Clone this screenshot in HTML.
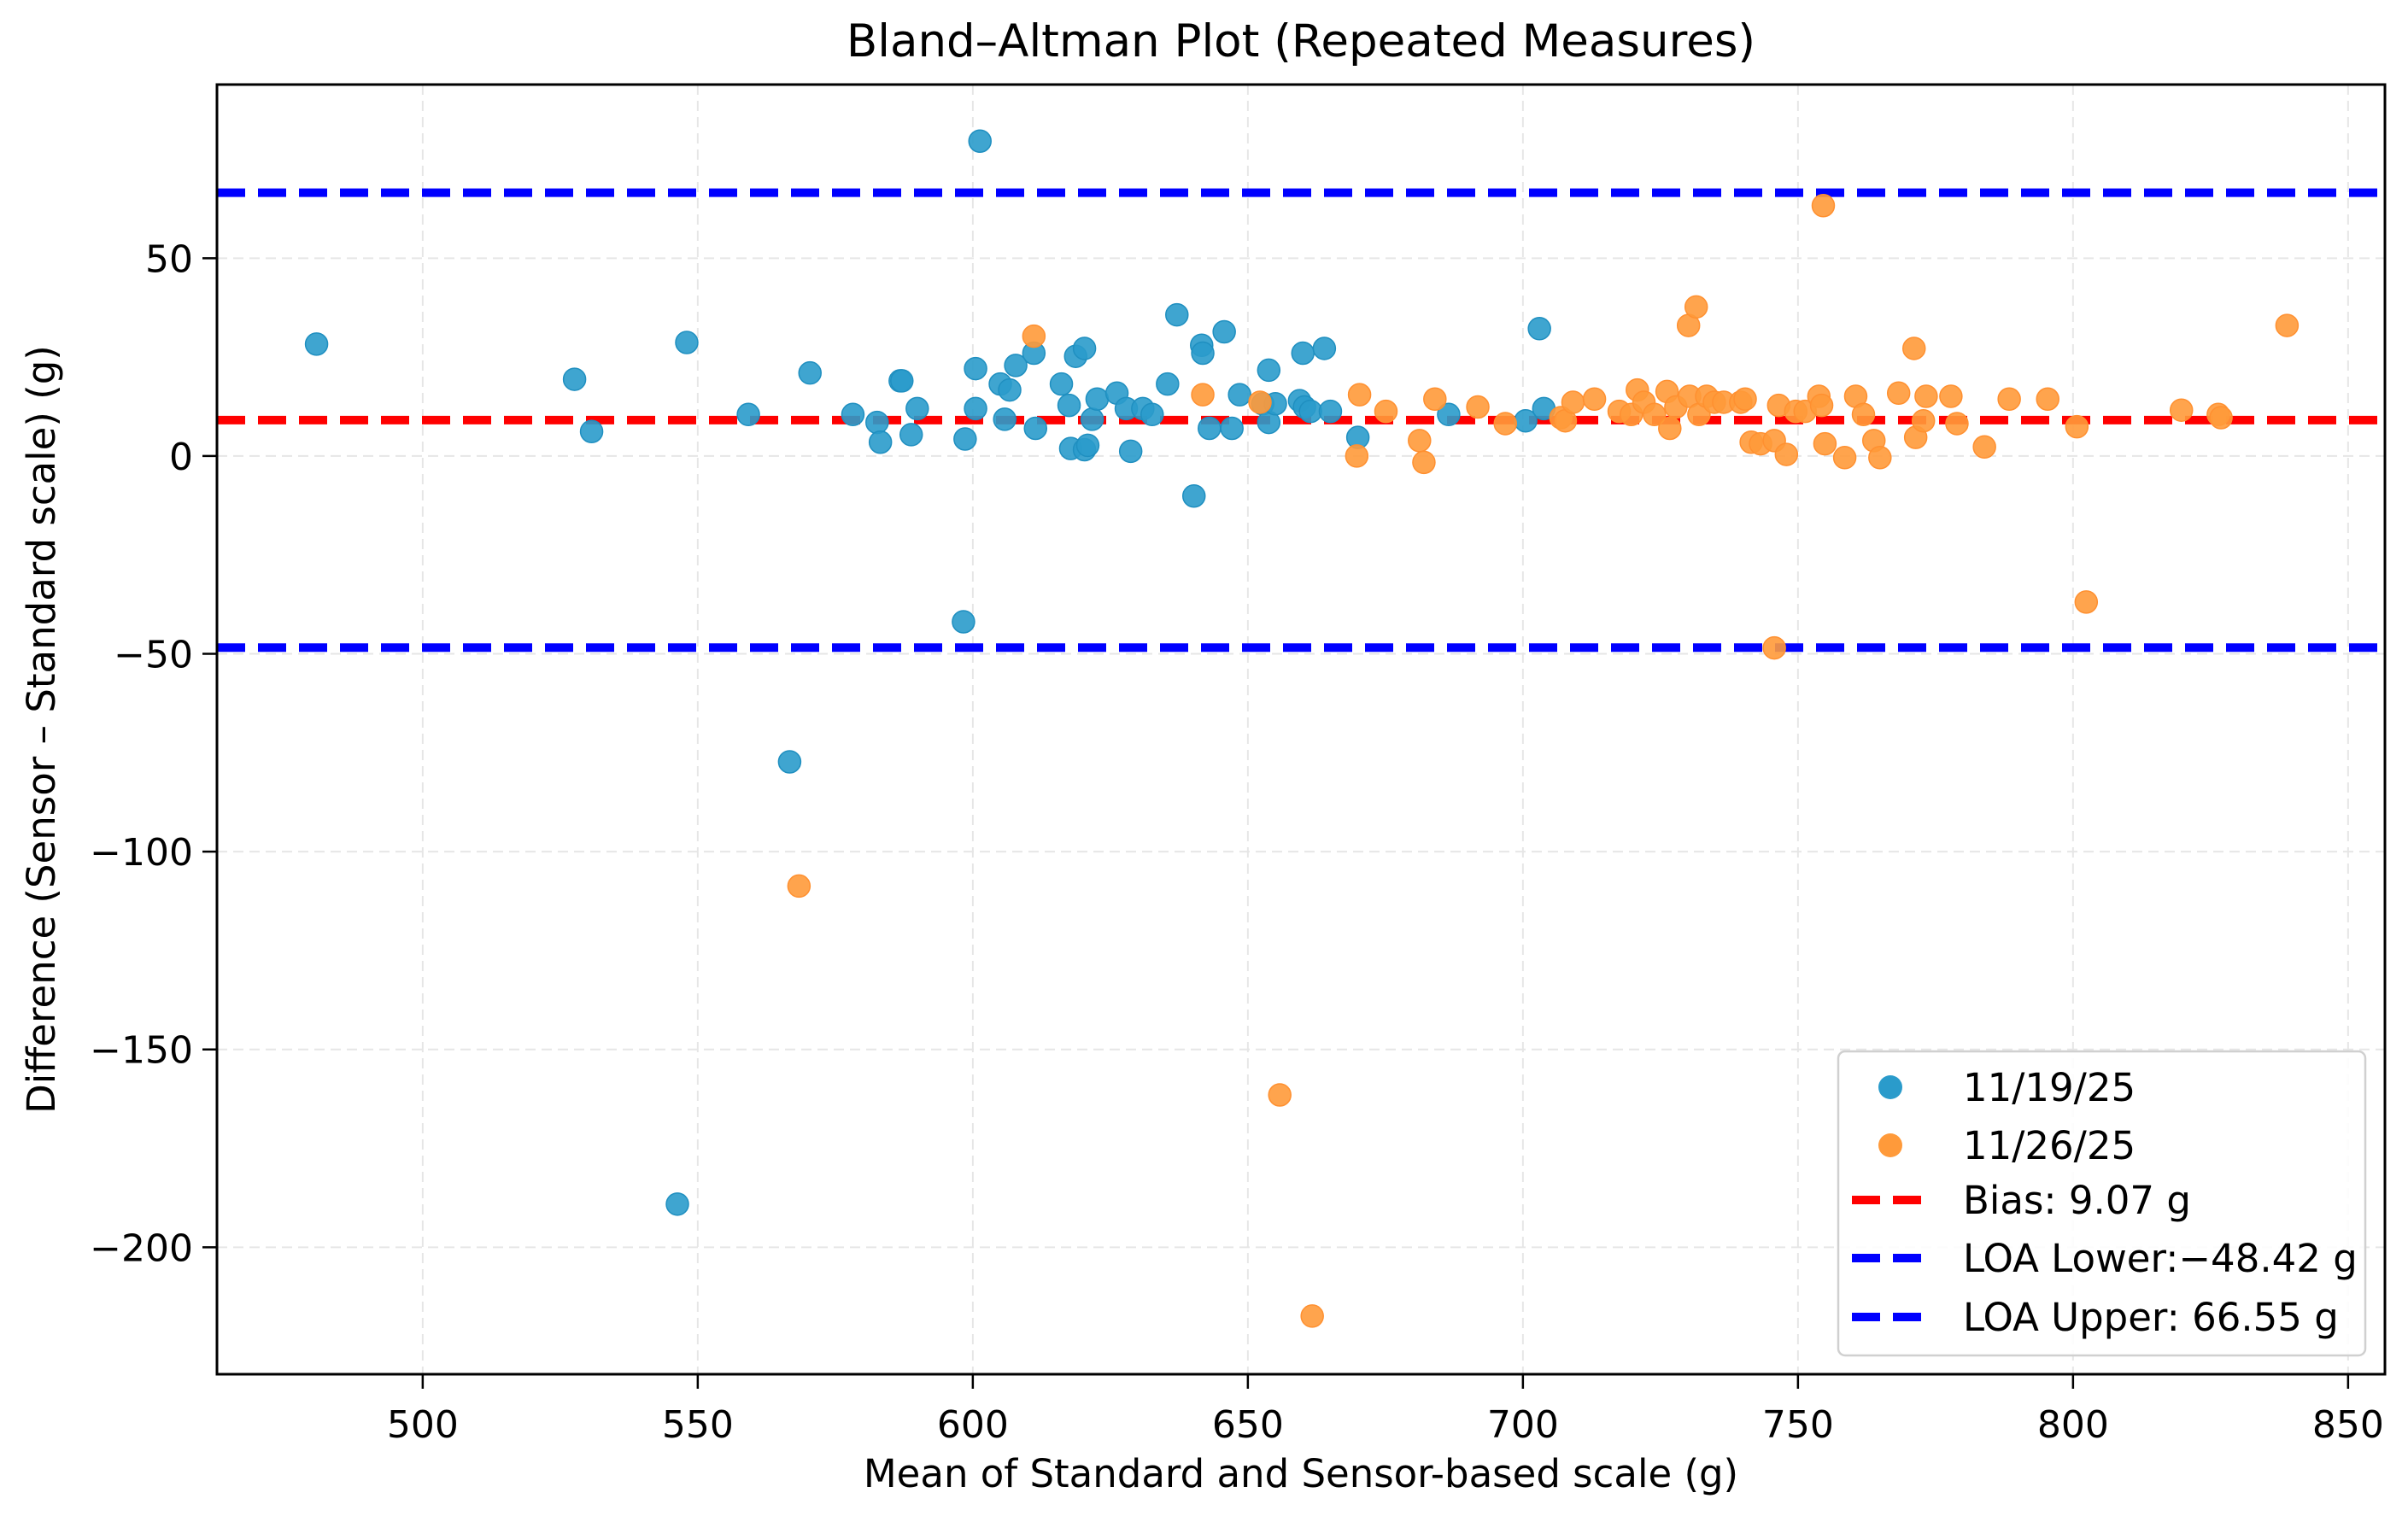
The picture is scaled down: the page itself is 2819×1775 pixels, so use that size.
<!DOCTYPE html>
<html><head><meta charset="utf-8"><style>
html,body{margin:0;padding:0;background:#fff;}
svg{display:block;font-family:"DejaVu Sans","Liberation Sans",sans-serif;}
</style></head><body>
<svg id="chart" width="2819" height="1775" viewBox="0 0 2819 1775" xmlns="http://www.w3.org/2000/svg">
<rect width="2819" height="1775" fill="#fff"/>
<g id="grid"></g>
<g id="lines"></g>
<g id="points"></g>
<g id="axes"></g>
<g id="legend"></g>
</svg>
<script>
const xTicks=[500,550,600,650,700,750,800,850];
const yTicks=[50,0,-50,-100,-150,-200];
const bias=9.07, loaLower=-48.42, loaUpper=66.55;
const seriesNames=["11/19/25","11/26/25"];
const blueX=[480.7,527.6,530.7,548.0,559.2,570.4,546.3,566.7,578.2,582.6,583.2,586.8,587.1,588.8,589.9,598.3,598.6,601.3,600.5,600.5,605.0,605.8,606.7,607.8,611.1,611.4,616.1,617.5,617.8,618.7,620.3,620.3,620.9,621.7,622.6,626.2,627.9,628.7,630.9,632.6,635.4,637.1,640.2,641.6,641.8,643.0,645.7,647.1,648.5,652.7,653.8,653.8,655.0,659.4,660.0,660.3,661.4,663.9,665.0,670.0,686.5,700.5,703.0,703.8];
const blueY=[28.3,19.4,6.2,28.7,10.5,21.0,-189.1,-77.3,10.5,8.5,3.5,19.0,19.0,5.4,12.0,-41.9,4.3,79.6,22.1,12.0,18.2,9.3,16.7,22.9,26.0,7.0,18.2,12.8,1.9,25.2,27.2,1.6,2.7,9.3,14.4,15.9,12.0,1.2,12.0,10.5,18.2,35.7,-10.1,28.0,26.0,7.0,31.4,7.0,15.5,13.2,21.7,8.5,13.2,14.0,26.0,12.4,11.3,27.2,11.3,4.7,10.5,8.9,32.2,12.0];
const orangeX=[611.1,568.4,641.8,652.2,655.8,661.7,669.8,670.3,675.1,681.2,682.0,684.0,691.8,696.8,706.9,707.7,709.1,713.0,717.5,719.7,720.8,722.0,723.9,726.2,726.7,727.8,730.1,730.3,731.5,732.0,733.4,734.8,736.5,739.6,740.4,741.5,743.2,745.7,745.7,746.5,747.9,749.6,751.3,753.8,754.3,754.6,754.9,758.5,760.5,761.9,763.8,764.9,768.3,771.1,771.4,772.8,773.3,777.8,778.9,783.9,788.4,795.4,800.7,802.4,819.7,826.4,826.9,838.9];
const orangeY=[30.3,-108.7,15.5,13.6,-161.5,-217.4,0,15.5,11.3,3.9,-1.6,14.4,12.4,8.2,9.7,8.9,13.6,14.4,11.3,10.5,16.7,13.6,10.5,16.3,7.0,12.4,33.0,15.1,37.7,10.5,15.1,13.6,13.6,13.6,14.4,3.5,3.1,3.9,-48.5,12.8,0.4,11.3,11.3,15.1,12.8,63.3,3.1,-0.4,15.1,10.5,3.9,-0.4,15.9,27.2,4.7,8.9,15.1,15.1,8.2,2.3,14.4,14.4,7.4,-36.9,11.6,10.5,9.7,33.0];

const L=254,R=2792,T=99,B=1609;
const xMin=462.6,xMax=856.7,yMin=-232.1,yMax=93.9;
const sx=v=>L+(v-xMin)/(xMax-xMin)*(R-L);
const sy=v=>B-(v-yMin)/(yMax-yMin)*(B-T);
const NS="http://www.w3.org/2000/svg";
function mk(tag,attrs,parent,text){const e=document.createElementNS(NS,tag);for(const k in attrs)e.setAttribute(k,attrs[k]);if(text!==undefined)e.textContent=text;parent.appendChild(e);return e;}
const grid=document.getElementById('grid'),lines=document.getElementById('lines'),pts=document.getElementById('points'),axes=document.getElementById('axes'),leg=document.getElementById('legend');
const fmt=v=>v<0?"\u2212"+Math.abs(v):String(v);

xTicks.forEach(v=>{const x=sx(v);
 const g=mk('line',{x1:x,x2:x,y1:T,y2:B,stroke:'#e6e6e6','stroke-width':2,'stroke-dasharray':'12,7'},grid);
 
 
 const t=mk('line',{x1:x,x2:x,y1:B,y2:B+17,stroke:'#000','stroke-width':2.5},axes);
 
 
 const lb=mk('text',{x:x,y:B+74,'font-size':44,'text-anchor':'middle',fill:'#000'},axes,fmt(v));
 
 
});
yTicks.forEach(v=>{const y=sy(v);
 const g=mk('line',{x1:L,x2:R,y1:y,y2:y,stroke:'#e6e6e6','stroke-width':2,'stroke-dasharray':'12,7'},grid);
 
 
 const t=mk('line',{x1:L-17,x2:L,y1:y,y2:y,stroke:'#000','stroke-width':2.5},axes);
 
 
 const lb=mk('text',{x:L-28,y:y+16,'font-size':44,'text-anchor':'end',fill:'#000'},axes,fmt(v));
 
 
});

[[loaUpper,'#0000ff','loa-upper-line'],[loaLower,'#0000ff','loa-lower-line'],[bias,'#ff0000','bias-line']].forEach(([v,c,n])=>{
 const l=mk('line',{x1:L,x2:R,y1:sy(v),y2:sy(v),stroke:c,'stroke-width':10,'stroke-dasharray':'33,15'},lines);
 
 
});

function drawPts(xs,ys,fill,stroke,name){
 xs.forEach((v,i)=>{const c=mk('circle',{cx:sx(v),cy:sy(ys[i]),r:13,fill:fill,stroke:stroke,'stroke-width':1.5,'fill-opacity':0.9},pts);
  
  
 });
}
drawPts(blueX,blueY,'#2a9bcb','#1f8fc0','point-11-19-25');
drawPts(orangeX,orangeY,'#ff9a3a','#ff9030','point-11-26-25');

const frame=mk('rect',{x:L,y:T,width:R-L,height:B-T,fill:'none',stroke:'#000','stroke-width':3},axes);


const title=mk('text',{x:(L+R)/2,y:66,'font-size':53,'text-anchor':'middle',fill:'#000'},axes,'Bland\u2013Altman Plot (Repeated Measures)');


const xl=mk('text',{x:(L+R)/2,y:1741,'font-size':45,'text-anchor':'middle',fill:'#000'},axes,'Mean of Standard and Sensor-based scale (g)');


const yl=mk('text',{x:0,y:0,'font-size':45,'text-anchor':'middle',fill:'#000',transform:'translate(64,854) rotate(-90)'},axes,'Difference (Sensor \u2013 Standard scale) (g)');



const box=mk('rect',{x:2152,y:1231,width:617,height:356,rx:8,fill:'#fff','fill-opacity':0.85,stroke:'#d0d0d0','stroke-width':2.5},leg);


const legendLabels=[seriesNames[0],seriesNames[1],'Bias: '+bias.toFixed(2)+' g','LOA Lower:\u2212'+Math.abs(loaLower).toFixed(2)+' g','LOA Upper: '+loaUpper.toFixed(2)+' g'];
const legYs=[1273,1341,1405,1473,1542];
legendLabels.forEach((s,i)=>{const y=legYs[i];
 if(i<2){const c=mk('circle',{cx:2213,cy:y,r:14,fill:i?'#ff9a3a':'#2a9bcb'},leg);
  
  }
 else{const l=mk('line',{x1:2168,x2:2250,y1:y,y2:y,stroke:i==2?'#ff0000':'#0000ff','stroke-width':10,'stroke-dasharray':'33,15'},leg);
  
  }
 const t=mk('text',{x:2298,y:y+16,'font-size':45,fill:'#000'},leg,s);
 
 
});
</script>
</body></html>
